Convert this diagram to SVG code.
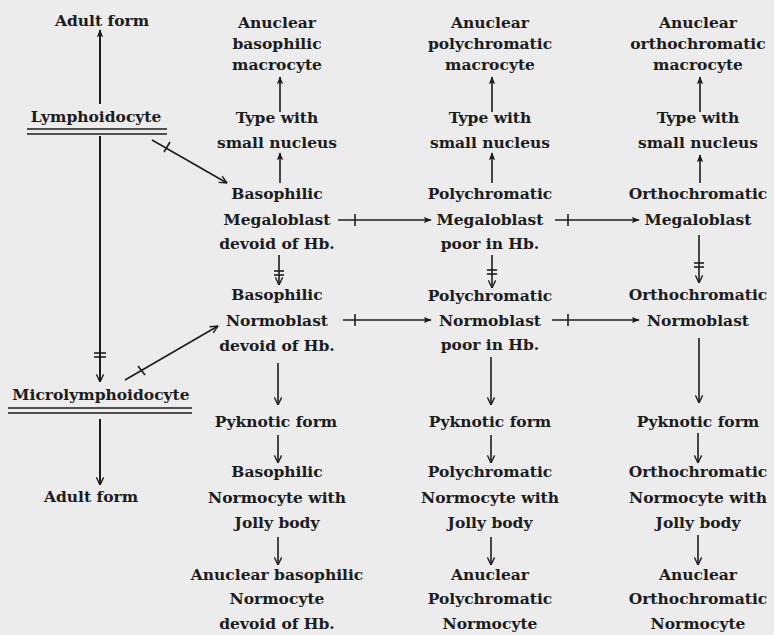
<svg xmlns="http://www.w3.org/2000/svg" width="774" height="635" viewBox="0 0 774 635">
<defs>
<style>
text{font-family:"DejaVu Serif","Liberation Serif",serif;font-size:15.5px;font-weight:bold;fill:#1c1c1c;text-anchor:middle}
.c line,.c path{stroke:#1c1c1c;stroke-width:1.6;fill:none}
.f{marker-end:url(#fa)}
.v{marker-end:url(#va)}
</style>
<marker id="fa" viewBox="0 0 10 10" refX="9" refY="5" markerWidth="8" markerHeight="8" markerUnits="userSpaceOnUse" orient="auto"><path d="M0,1 L10,5 L0,9 L2,5 Z" fill="#1c1c1c"/></marker>
<marker id="va" viewBox="0 0 10 10" refX="9.5" refY="5" markerWidth="9" markerHeight="9" markerUnits="userSpaceOnUse" orient="auto"><path d="M1,1 L9.5,5 L1,9" fill="none" stroke="#1c1c1c" stroke-width="1.5"/></marker>
</defs>
<rect width="774" height="635" fill="#ececec"/>

<g id="adult-top"><text x="102" y="26">Adult form</text></g>
<g id="lymphoidocyte"><text x="96" y="122">Lymphoidocyte</text>
<line x1="27" y1="129" x2="167" y2="129" stroke="#1c1c1c" stroke-width="1.5"/>
<line x1="27" y1="134" x2="167" y2="134" stroke="#1c1c1c" stroke-width="1.5"/></g>
<g id="microlymphoidocyte"><text x="101" y="400">Microlymphoidocyte</text>
<line x1="8" y1="408" x2="192" y2="408" stroke="#1c1c1c" stroke-width="1.5"/>
<line x1="8" y1="413" x2="192" y2="413" stroke="#1c1c1c" stroke-width="1.5"/></g>
<g id="adult-bottom"><text x="91" y="502">Adult form</text></g>

<g id="baso-macrocyte"><text x="277" y="28">Anuclear</text><text x="277" y="49">basophilic</text><text x="277" y="70">macrocyte</text></g>
<g id="baso-type"><text x="277" y="123">Type with</text><text x="277" y="148">small nucleus</text></g>
<g id="baso-megaloblast"><text x="277" y="199">Basophilic</text><text x="277" y="225">Megaloblast</text><text x="277" y="249">devoid of Hb.</text></g>
<g id="baso-normoblast"><text x="277" y="300">Basophilic</text><text x="277" y="326">Normoblast</text><text x="277" y="351">devoid of Hb.</text></g>
<g id="baso-pyknotic"><text x="276" y="427">Pyknotic form</text></g>
<g id="baso-normocyte-jolly"><text x="277" y="477">Basophilic</text><text x="277" y="503">Normocyte with</text><text x="277" y="528">Jolly body</text></g>
<g id="baso-normocyte"><text x="277" y="580">Anuclear basophilic</text><text x="277" y="604">Normocyte</text><text x="277" y="629">devoid of Hb.</text></g>

<g id="poly-macrocyte"><text x="490" y="28">Anuclear</text><text x="490" y="49">polychromatic</text><text x="490" y="70">macrocyte</text></g>
<g id="poly-type"><text x="490" y="123">Type with</text><text x="490" y="148">small nucleus</text></g>
<g id="poly-megaloblast"><text x="490" y="199">Polychromatic</text><text x="490" y="225">Megaloblast</text><text x="490" y="249">poor in Hb.</text></g>
<g id="poly-normoblast"><text x="490" y="301">Polychromatic</text><text x="490" y="326">Normoblast</text><text x="490" y="350">poor in Hb.</text></g>
<g id="poly-pyknotic"><text x="490" y="427">Pyknotic form</text></g>
<g id="poly-normocyte-jolly"><text x="490" y="477">Polychromatic</text><text x="490" y="503">Normocyte with</text><text x="490" y="528">Jolly body</text></g>
<g id="poly-normocyte"><text x="490" y="580">Anuclear</text><text x="490" y="604">Polychromatic</text><text x="490" y="629">Normocyte</text></g>

<g id="ortho-macrocyte"><text x="698" y="28">Anuclear</text><text x="698" y="49">orthochromatic</text><text x="698" y="70">macrocyte</text></g>
<g id="ortho-type"><text x="698" y="123">Type with</text><text x="698" y="148">small nucleus</text></g>
<g id="ortho-megaloblast"><text x="698" y="199">Orthochromatic</text><text x="698" y="225">Megaloblast</text></g>
<g id="ortho-normoblast"><text x="698" y="300">Orthochromatic</text><text x="698" y="326">Normoblast</text></g>
<g id="ortho-pyknotic"><text x="698" y="427">Pyknotic form</text></g>
<g id="ortho-normocyte-jolly"><text x="698" y="477">Orthochromatic</text><text x="698" y="503">Normocyte with</text><text x="698" y="528">Jolly body</text></g>
<g id="ortho-normocyte"><text x="698" y="580">Anuclear</text><text x="698" y="604">Orthochromatic</text><text x="698" y="629">Normocyte</text></g>

<g id="connectors" class="c">
<line class="f" x1="100" y1="104" x2="100" y2="30" style="stroke-width:2"/>
<line class="v" x1="100" y1="136" x2="100" y2="382" style="stroke-width:2"/>
<line x1="94" y1="353" x2="106" y2="353"/><line x1="94" y1="357" x2="106" y2="357"/>
<line class="v" x1="100" y1="419" x2="100" y2="485" style="stroke-width:2"/>
<line class="v" x1="152" y1="140" x2="227" y2="183"/>
<line x1="164" y1="152" x2="170" y2="142"/>
<line class="v" x1="125" y1="380" x2="218" y2="326"/>
<line x1="138" y1="366" x2="145" y2="375"/>
<line class="f" x1="280" y1="112" x2="280" y2="77"/>
<line class="f" x1="280" y1="183" x2="280" y2="153"/>
<line class="v" x1="279" y1="255" x2="279" y2="285"/>
<line x1="274" y1="271" x2="284" y2="271"/><line x1="274" y1="275" x2="284" y2="275"/>
<line class="v" x1="278" y1="363" x2="278" y2="405"/>
<line class="v" x1="278" y1="435" x2="278" y2="463"/>
<line class="v" x1="278" y1="537" x2="278" y2="565"/>
<line class="f" x1="492" y1="112" x2="492" y2="77"/>
<line class="f" x1="492" y1="183" x2="492" y2="153"/>
<line class="v" x1="492" y1="255" x2="492" y2="288"/>
<line x1="487" y1="270" x2="497" y2="270"/><line x1="487" y1="274" x2="497" y2="274"/>
<line class="v" x1="491" y1="357" x2="491" y2="405"/>
<line class="v" x1="491" y1="435" x2="491" y2="463"/>
<line class="v" x1="491" y1="537" x2="491" y2="565"/>
<line class="f" x1="700" y1="112" x2="700" y2="77"/>
<line class="f" x1="700" y1="183" x2="700" y2="155"/>
<line class="v" x1="699" y1="235" x2="699" y2="283"/>
<line x1="694" y1="263" x2="704" y2="263"/><line x1="694" y1="267" x2="704" y2="267"/>
<line class="v" x1="699" y1="338" x2="699" y2="403"/>
<line class="v" x1="698" y1="433" x2="698" y2="463"/>
<line class="v" x1="698" y1="535" x2="698" y2="565"/>
<line class="f" x1="338" y1="220" x2="431" y2="220"/>
<line x1="355" y1="214" x2="355" y2="226"/>
<line class="f" x1="343" y1="320" x2="431" y2="320"/>
<line x1="355" y1="314" x2="355" y2="326"/>
<line class="f" x1="555" y1="220" x2="639" y2="220"/>
<line x1="568" y1="214" x2="568" y2="226"/>
<line class="f" x1="552" y1="320" x2="639" y2="320"/>
<line x1="568" y1="314" x2="568" y2="326"/>
</g>
</svg>
